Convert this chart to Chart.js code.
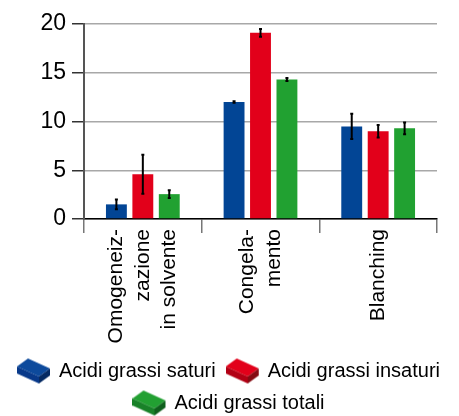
<!DOCTYPE html>
<html>
<head>
<meta charset="utf-8">
<script src="https://cdn.jsdelivr.net/npm/chart.js@4.4.1/dist/chart.umd.min.js"></script>
<style>
  html, body { margin: 0; padding: 0; background: #fff; }
  #wrap { width: 459px; height: 416px; }
</style>
</head>
<body>
<div id="wrap"><canvas id="grafico" width="459" height="416"></canvas></div>
<script>
// dati
const categorie = [['Omogeneiz-', 'zazione', 'in solvente'], ['Congela-', 'mento'], ['Blanching']];
const saturi = [1.5, 12.0, 9.5];
const saturiErr = [0.5, 0.08, 1.3];
const insaturi = [4.6, 19.1, 9.0];
const insaturiErr = [2.0, 0.4, 0.65];
const totali = [2.55, 14.3, 9.3];
const totaliErr = [0.4, 0.15, 0.6];
const yTicks = [0, 5, 10, 15, 20];

// icona "scatola" per la legenda
function scatola(top, left, right) {
  const c = document.createElement('canvas');
  c.width = 34; c.height = 27;
  const g = c.getContext('2d');
  function poly(pts, col) {
    g.beginPath();
    g.moveTo(pts[0][0], pts[0][1]);
    for (let i = 1; i < pts.length; i++) g.lineTo(pts[i][0], pts[i][1]);
    g.closePath();
    g.fillStyle = col;
    g.fill();
  }
  poly([[0, 9], [11, 1], [33, 11], [22, 19]], top);
  poly([[0, 9], [22, 19], [22, 26], [0, 16]], left);
  poly([[22, 19], [33, 11], [33, 18], [22, 26]], right);
  return c;
}

const icone = [
  scatola('#0d4a9c', '#08398a', '#052a63'),
  scatola('#e2001a', '#b20014', '#850b12'),
  scatola('#22a032', '#188128', '#0e5f1c')
];

const barreErrore = {
  id: 'barreErrore',
  afterDatasetsDraw(chart) {
    const ctx = chart.ctx;
    const y = chart.scales.y;
    ctx.save();
    ctx.strokeStyle = '#000';
    ctx.lineWidth = 2;
    chart.data.datasets.forEach((ds, i) => {
      const meta = chart.getDatasetMeta(i);
      meta.data.forEach((bar, j) => {
        const v = ds.data[j];
        const e = ds.errori[j];
        const y1 = y.getPixelForValue(v + e);
        const y2 = y.getPixelForValue(v - e);
        ctx.beginPath();
        ctx.moveTo(bar.x, y1);
        ctx.lineTo(bar.x, y2);
        ctx.moveTo(bar.x - 1.5, y1);
        ctx.lineTo(bar.x + 1.5, y1);
        ctx.moveTo(bar.x - 1.5, y2);
        ctx.lineTo(bar.x + 1.5, y2);
        ctx.stroke();
      });
    });
    ctx.restore();
  }
};

// centra le etichette su più righe attorno al tick
const centraEtichette = {
  id: 'centraEtichette',
  beforeDraw(chart) {
    const s = chart.scales.x;
    const items = s.getLabelItems(chart.chartArea);
    items.forEach(it => {
      if (it._centrato) return;
      const n = Array.isArray(it.label) ? it.label.length : 1;
      it.textOffset -= (n - 1) / 2 * it.font.lineHeight;
      it._centrato = true;
    });
  }
};

const ctx = document.getElementById('grafico').getContext('2d');
new Chart(ctx, {
  type: 'bar',
  data: {
    labels: categorie,
    datasets: [{
      label: 'Acidi grassi saturi',
      data: saturi,
      errori: saturiErr,
      backgroundColor: '#024595',
      pointStyle: icone[0]
    }, {
      label: 'Acidi grassi insaturi',
      data: insaturi,
      errori: insaturiErr,
      backgroundColor: '#e2001a',
      pointStyle: icone[1]
    }, {
      label: 'Acidi grassi totali',
      data: totali,
      errori: totaliErr,
      backgroundColor: '#21a131',
      pointStyle: icone[2]
    }]
  },
  options: {
    responsive: false,
    animation: false,
    categoryPercentage: 0.674,
    barPercentage: 0.79,
    layout: { padding: { top: 24, right: 0, left: 0, bottom: -7 } },
    plugins: {
      tooltip: { enabled: false },
      legend: {
        position: 'bottom',
        labels: {
          usePointStyle: true,
          pointStyleWidth: 30,
          padding: 12,
          color: '#000',
          font: { family: "'Liberation Sans', Arial, sans-serif", size: 20 }
        }
      }
    },
    scales: {
      x: {
        grid: {
          offset: true,
          drawOnChartArea: false,
          tickLength: 14,
          color: '#777',
          lineWidth: 1.5
        },
        border: { color: '#000', width: 1.5 },
        ticks: {
          maxRotation: 90,
          minRotation: 90,
          padding: -4,
          color: '#000',
          font: { family: "'Liberation Sans', sans-serif", size: 21, lineHeight: 1.27 }
        },
        afterFit(scale) { scale.height = 130; }
      },
      y: {
        min: 0,
        max: 20,
        afterBuildTicks(scale) { scale.ticks = yTicks.map(v => ({ value: v })); },
        grid: {
          color: '#a8a8a8',
          lineWidth: 1.5,
          tickLength: 12,
          tickColor: '#333'
        },
        border: { color: '#555', width: 2 },
        ticks: {
          padding: 6,
          color: '#000',
          font: { family: "'Liberation Sans', Arial, sans-serif", size: 23 }
        },
        afterFit(scale) { scale.width = 84; }
      },
      destra: {
        position: 'right',
        grid: { display: false },
        border: { display: false },
        ticks: { display: false },
        afterFit(scale) { scale.width = 22; }
      }
    }
  },
  plugins: [barreErrore, centraEtichette]
});
</script>
</body>
</html>
